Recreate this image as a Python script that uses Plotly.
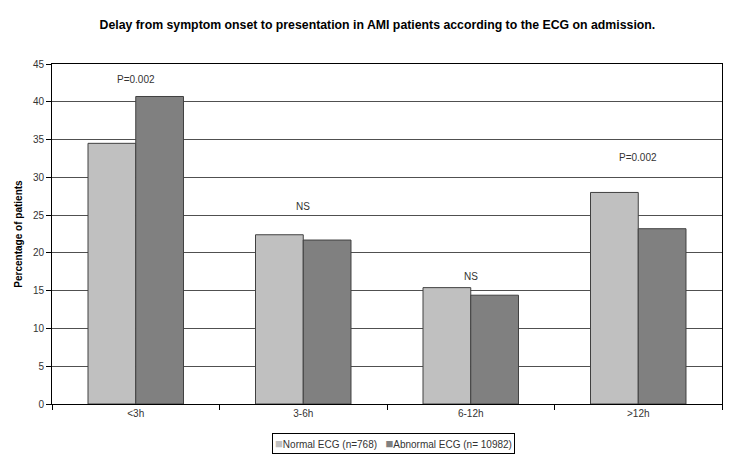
import plotly.graph_objects as go

categories = ["<3h", "3-6h", "6-12h", ">12h"]
normal_ecg = [34.5, 22.4, 15.4, 28.0]
abnormal_ecg = [40.7, 21.7, 14.4, 23.2]
series_names = ["Normal ECG (n=768)", "Abnormal ECG (n= 10982)"]
series_colors = ["#c0c0c0", "#808080"]
annot_text = ["P=0.002", "NS", "NS", "P=0.002"]
annot_y = [43.0, 26.2, 16.9, 32.6]
y_ticks = list(range(0, 50, 5))

fig = go.Figure()
for vals, name, col in zip([normal_ecg, abnormal_ecg], series_names, series_colors):
    fig.add_trace(go.Bar(x=categories, y=vals, name=name,
                         marker=dict(color=col, line=dict(color="#404040", width=1))))

for c, t, y in zip(categories, annot_text, annot_y):
    fig.add_annotation(x=c, y=y, text=t, showarrow=False,
                       font=dict(family="Liberation Sans, Arial", size=10, color="#333333"))

# legend box drawn as text (compact, like the original)
legend_text = "&nbsp;&nbsp;&nbsp;".join(
    f'<span style="color:{col};font-size:13px">■</span>{name}' for name, col in zip(series_names, series_colors))
fig.add_annotation(xref="paper", yref="paper", x=0.51, y=-0.115, xanchor="center", yanchor="middle",
                   text=legend_text, showarrow=False, bordercolor="black", borderwidth=1,
                   borderpad=2, bgcolor="white",
                   font=dict(family="Liberation Sans, Arial", size=10, color="#333333"))

fig.update_layout(
    width=740, height=470,
    margin=dict(l=52, r=18, t=64, b=66, autoexpand=False),
    paper_bgcolor="white", plot_bgcolor="white",
    barmode="group", bargap=0.43, bargroupgap=0,
    font=dict(family="Liberation Sans, Arial", size=10, color="#333333"),
    title=dict(text="<b>Delay from symptom onset to presentation in AMI patients according to the ECG on admission.</b>",
               x=0.51, xanchor="center", y=0.947, yanchor="middle",
               font=dict(family="Liberation Sans, Arial", size=12.3, color="black")),
    showlegend=False,
)
fig.update_xaxes(showline=True, linecolor="black", linewidth=1, mirror=True,
                 ticks="outside", tickson="boundaries", ticklen=5, tickcolor="black",
                 showgrid=False)
fig.update_yaxes(range=[0, 45], tickvals=y_ticks, showline=True, linecolor="black",
                 linewidth=1, mirror=True, ticks="outside", ticklen=5, tickcolor="black",
                 showgrid=True, gridcolor="#505050", gridwidth=1,
                 title=dict(text="<b>Percentage of patients</b>", font=dict(size=10, color="black"), standoff=8),
                 zeroline=False)

fig.write_html("out.html", config={"displayModeBar": False},
               post_script="document.body.style.margin='0px';")
